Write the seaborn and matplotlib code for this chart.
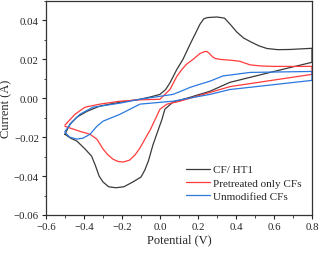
import matplotlib
matplotlib.use("Agg")
import matplotlib.pyplot as plt
import seaborn as sns
import pandas as pd
from matplotlib.ticker import MultipleLocator

sns.set_theme(style="ticks")
plt.rcParams['font.family'] = ['Liberation Serif', 'DejaVu Serif']

labels = ["CF/ HT1", "Pretreated only CFs", "Unmodified CFs"]
colors = ["#3a3a3a", "#ff3b3b", "#2a78e0"]

black_v = [-0.50, -0.474, -0.437, -0.384, -0.316, -0.21, -0.105, -0.05, 0.0, 0.03, 0.053, 0.089, 0.121, 0.158,
           0.19, 0.21, 0.23, 0.25, 0.30, 0.34, 0.37, 0.405, 0.44, 0.474, 0.52, 0.563, 0.62, 0.684, 0.80,
           0.80, 0.60, 0.368, 0.263, 0.158, 0.068, 0.026, 0.01, -0.01, -0.037, -0.06, -0.08, -0.10, -0.142,
           -0.19, -0.232, -0.27, -0.30, -0.32, -0.34, -0.36, -0.395, -0.437, -0.47, -0.50]
black_i = [-0.0185, -0.0133, -0.0097, -0.0067, -0.004, -0.002, -0.0005, 0.0007, 0.002, 0.0045, 0.008, 0.0149, 0.020, 0.0277,
           0.034, 0.038, 0.0408, 0.0415, 0.0418, 0.0412, 0.038, 0.034, 0.031, 0.0292, 0.027, 0.0256, 0.025, 0.0251, 0.0257,
           0.0185, 0.0138, 0.0082, 0.0036, 0.0005, -0.002, -0.0056, -0.011, -0.0165, -0.024, -0.032, -0.037, -0.0405, -0.043,
           -0.0455, -0.046, -0.0455, -0.043, -0.040, -0.0345, -0.0297, -0.026, -0.022, -0.0205, -0.0185]

red_v = [-0.50, -0.447, -0.395, -0.316, -0.21, -0.105, 0.0, 0.053, 0.089, 0.116, 0.14, 0.174, 0.21, 0.235, 0.247,
         0.26, 0.275, 0.29, 0.316, 0.38, 0.421, 0.45, 0.474, 0.52, 0.595, 0.80,
         0.80, 0.368, 0.263, 0.105, 0.037, 0.0, -0.026, -0.05, -0.079, -0.105, -0.13, -0.16, -0.195, -0.22,
         -0.247, -0.275, -0.30, -0.332, -0.368, -0.421, -0.50]
red_i = [-0.0138, -0.0082, -0.0046, -0.003, -0.0015, -0.0008, -0.0005, 0.0046, 0.0113, 0.0149, 0.0175, 0.020, 0.023, 0.024, 0.0241,
         0.023, 0.0215, 0.0205, 0.020, 0.0195, 0.019, 0.018, 0.0172, 0.0167, 0.0164, 0.0164,
         0.0123, 0.006, 0.003, -0.0015, -0.003, -0.0056, -0.011, -0.016, -0.021, -0.0255, -0.029, -0.0318, -0.0328, -0.0325,
         -0.0313, -0.029, -0.026, -0.021, -0.0185, -0.017, -0.0144]

blue_v = [-0.50, -0.463, -0.421, -0.353, -0.21, -0.105, 0.068, 0.12, 0.158, 0.21, 0.263, 0.332, 0.474, 0.80,
          0.80, 0.368, 0.263, 0.068, -0.105, -0.21, -0.30, -0.332, -0.368, -0.405, -0.437, -0.474, -0.50]
blue_i = [-0.017, -0.0123, -0.0082, -0.0046, -0.0025, -0.0005, 0.002, 0.004, 0.0056, 0.0072, 0.0088, 0.0115, 0.0133, 0.0138,
          0.0092, 0.0045, 0.002, -0.0015, -0.003, -0.0082, -0.0118, -0.0144, -0.0185, -0.0205, -0.021, -0.020, -0.0175]

curves = [(black_v, black_i), (red_v, red_i), (blue_v, blue_i)]

fig = plt.figure(figsize=(3.19, 2.55), dpi=100)
ax = fig.add_axes([0.144, 0.153, 0.834, 0.839])

for (v, i), lab, c in zip(curves, labels, colors):
    df = pd.DataFrame({"Potential": v, "Current": i})
    sns.lineplot(data=df, x="Potential", y="Current", sort=False, estimator=None,
                 color=c, lw=0.9, label=lab, ax=ax)

ax.set_xlim(-0.6, 0.8)
ax.set_ylim(-0.06, 0.05)
ax.xaxis.set_minor_locator(MultipleLocator(0.1))
ax.yaxis.set_minor_locator(MultipleLocator(0.01))
ax.set_xticks([-0.6, -0.4, -0.2, 0.0, 0.2, 0.4, 0.6, 0.8])
ax.set_xticklabels(["\u22120.6", "\u22120.4", "\u22120.2", "0.0", "0.2", "0.4", "0.6", "0.8"])
ax.set_yticks([-0.06, -0.04, -0.02, 0.0, 0.02, 0.04])
ax.set_yticklabels(["\u22120.06", "\u22120.04", "\u22120.02", "0.00", "0.02", "0.04"])
ax.tick_params(axis="both", which="major", direction="out", length=3, width=0.8, labelsize=7.8, pad=2)
ax.tick_params(axis="both", which="minor", direction="out", length=1.8, width=0.6)
for s in ax.spines.values():
    s.set_linewidth(0.9)
    s.set_color("#333333")
ax.set_xlabel("Potential (V)", fontsize=9, labelpad=2)
ax.set_ylabel("Current (A)", fontsize=9, labelpad=1)
ax.legend(loc="lower right", frameon=False, fontsize=8, handlelength=2.2, handletextpad=0.3,
          labelspacing=0.3, bbox_to_anchor=(1.0, 0.02))

fig.savefig("out.png", dpi=100)
